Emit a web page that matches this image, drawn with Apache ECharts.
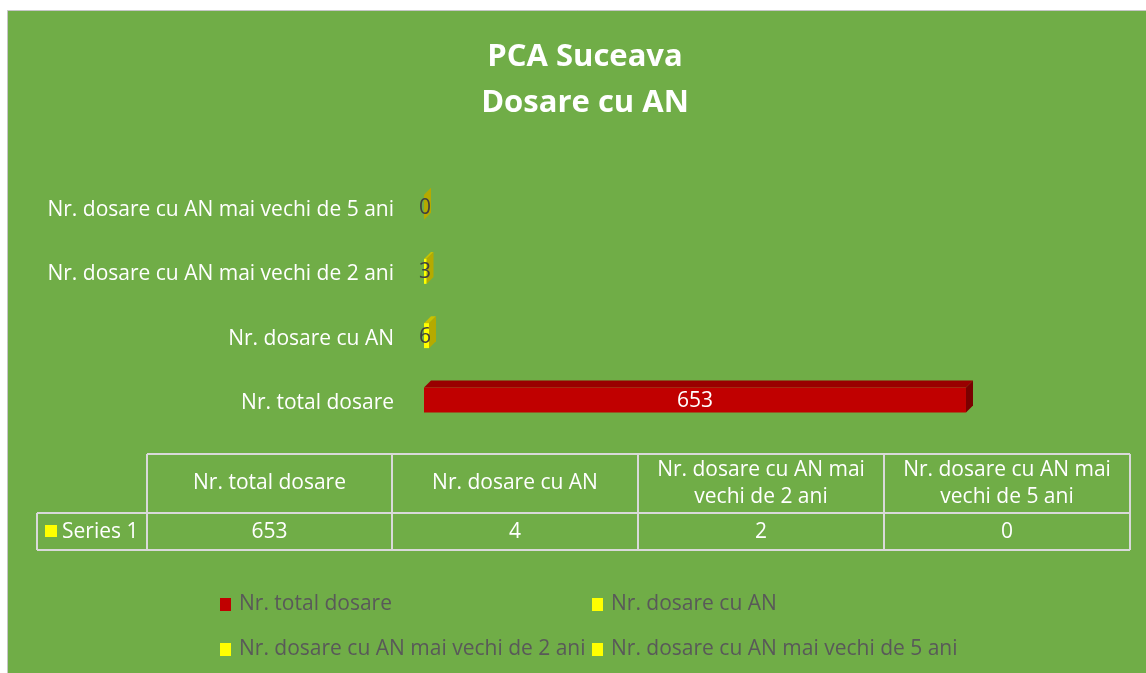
<!DOCTYPE html>
<html lang="ro">
<head>
    <meta charset="UTF-8">
    <title>PCA Suceava - Dosare cu AN</title>
    <script src="https://cdn.jsdelivr.net/npm/echarts@6/dist/echarts.min.js"></script>
    <style>
        html, body { margin: 0; padding: 0; background: #fff; }
        #chart { width: 1146px; height: 673px; }
    </style>
</head>
<body>
<div id="chart"></div>
<script type="text/javascript">
    // date
    var categories = ['Nr. total dosare', 'Nr. dosare cu AN', 'Nr. dosare cu AN mai vechi de 2 ani', 'Nr. dosare cu AN mai vechi de 5 ani'];
    var barValues = [653, 6, 3, 0];
    var tableHeaders = ['Nr. total dosare', 'Nr. dosare cu AN', 'Nr. dosare cu AN mai\nvechi de 2 ani', 'Nr. dosare cu AN mai\nvechi de 5 ani'];
    var tableValues = [653, 4, 2, 0];
    var seriesLabel = 'Series 1';

    // culori: fata, capac, lateral
    var barColors = ['#C00000', '#FFFF00', '#FFFF00', '#FFFF00'];
    var topColors = ['#990000', '#C9C200', '#C9C200', '#C9C200'];
    var sideColors = ['#7A0000', '#B5AA00', '#B5AA00', '#B5AA00'];
    var FONT = 'Open Sans';
    var FS = 21;

    var myChart = echarts.init(document.getElementById('chart'));

    // bara "3D": fata, capac si lateral
    function renderBar(params, api) {
        var v = api.value(0), idx = api.value(1);
        var p0 = api.coord([0, idx]);
        var p1 = api.coord([v, idx]);
        var th = 25, d = 7;
        var cy = p0[1] - 3;
        var x0 = p0[0], x1 = p1[0];
        var top = cy - th / 2, bot = cy + th / 2;
        var si = params.seriesIndex;
        var big = (x1 - x0) > 40;
        return {
            type: 'group',
            children: [
                { type: 'polygon', shape: { points: [[x0, top], [x0 + d, top - d], [x1 + d, top - d], [x1, top]] },
                  style: { fill: topColors[si] } },
                { type: 'polygon', shape: { points: [[x1, top], [x1 + d, top - d], [x1 + d, bot - d], [x1, bot]] },
                  style: { fill: sideColors[si] } },
                { type: 'rect', shape: { x: x0, y: top, width: x1 - x0, height: th },
                  style: { fill: api.visual('color') } },
                { type: 'text', x: big ? (x0 + x1) / 2 : x0 + 1, y: cy + 1,
                  style: { text: String(v), fill: big ? '#fff' : '#404040', font: FS + 'px "' + FONT + '"',
                           align: 'center', verticalAlign: 'middle' } }
            ]
        };
    }

    var series = categories.map(function (name, i) {
        return {
            type: 'custom',
            name: name,
            renderItem: renderBar,
            encode: { x: 0, y: 1 },
            itemStyle: { color: barColors[i] },
            data: [[barValues[i], i]]
        };
    });

    // tabelul de date
    var colX = [147, 392, 638, 884, 1130];
    var rowY = [454, 513, 550];
    var labelLeft = 37;
    var lineStyle = { stroke: '#D9D9D9', lineWidth: 2 };
    var tableEls = [];
    function line(x1, y1, x2, y2) {
        tableEls.push({ type: 'line', shape: { x1: x1, y1: y1, x2: x2, y2: y2 }, style: lineStyle, z: 10 });
    }
    line(colX[0], rowY[0], colX[4], rowY[0]);
    line(labelLeft, rowY[1], colX[4], rowY[1]);
    line(labelLeft, rowY[2], colX[4], rowY[2]);
    line(labelLeft, rowY[1], labelLeft, rowY[2]);
    colX.forEach(function (x) { line(x, rowY[0], x, rowY[2]); });
    tableHeaders.forEach(function (h, i) {
        var cx = (colX[i] + colX[i + 1]) / 2;
        tableEls.push({ type: 'text', x: cx, y: (rowY[0] + rowY[1]) / 2, z: 10,
            style: { text: h, fill: '#fff', font: FS + 'px "' + FONT + '"', align: 'center', verticalAlign: 'middle', lineHeight: 27 } });
        tableEls.push({ type: 'text', x: cx, y: (rowY[1] + rowY[2]) / 2 + 1, z: 10,
            style: { text: String(tableValues[i]), fill: '#fff', font: FS + 'px "' + FONT + '"', align: 'center', verticalAlign: 'middle' } });
    });
    tableEls.push({ type: 'rect', shape: { x: 45, y: 525, width: 12, height: 12 }, style: { fill: '#FFFF00' }, z: 10 });
    tableEls.push({ type: 'text', x: 62, y: (rowY[1] + rowY[2]) / 2 + 1, z: 10,
        style: { text: seriesLabel, fill: '#fff', font: FS + 'px "' + FONT + '"', align: 'left', verticalAlign: 'middle' } });

    var legendPos = [[220, 594], [592, 594], [220, 639], [592, 639]];

    var option = {
        backgroundColor: '#fff',
        animation: false,
        title: {
            text: 'PCA Suceava\nDosare cu AN',
            left: 580,
            top: 29,
            textAlign: 'center',
            textStyle: { color: '#fff', fontFamily: FONT, fontWeight: 'bold', fontSize: 31, lineHeight: 46 }
        },
        legend: categories.map(function (c, i) {
            return {
                data: [c], left: legendPos[i][0], top: legendPos[i][1], padding: 0,
                icon: 'rect', itemWidth: 11, itemHeight: 13, itemGap: 8,
                textStyle: { color: '#595959', fontFamily: FONT, fontSize: FS, padding: [0, 0, 0, 3] },
                selectedMode: false
            };
        }),
        grid: { left: 424, right: 141, top: 178, bottom: 673 - 435, containLabel: false },
        xAxis: { type: 'value', min: 0, max: 700, show: false },
        yAxis: {
            type: 'category',
            data: categories,
            axisLine: { show: false },
            axisTick: { show: false },
            splitLine: { show: false },
            axisLabel: { color: '#fff', fontFamily: FONT, fontSize: FS, margin: 30 }
        },
        graphic: [
            { type: 'rect', z: -10, silent: true, shape: { x: 7.5, y: 10.5, width: 1145, height: 670 },
              style: { fill: '#70AD47', stroke: '#C6C6C6', lineWidth: 1 } }
        ].concat(tableEls),
        series: series
    };
    myChart.setOption(option);
</script>
</body>
</html>
